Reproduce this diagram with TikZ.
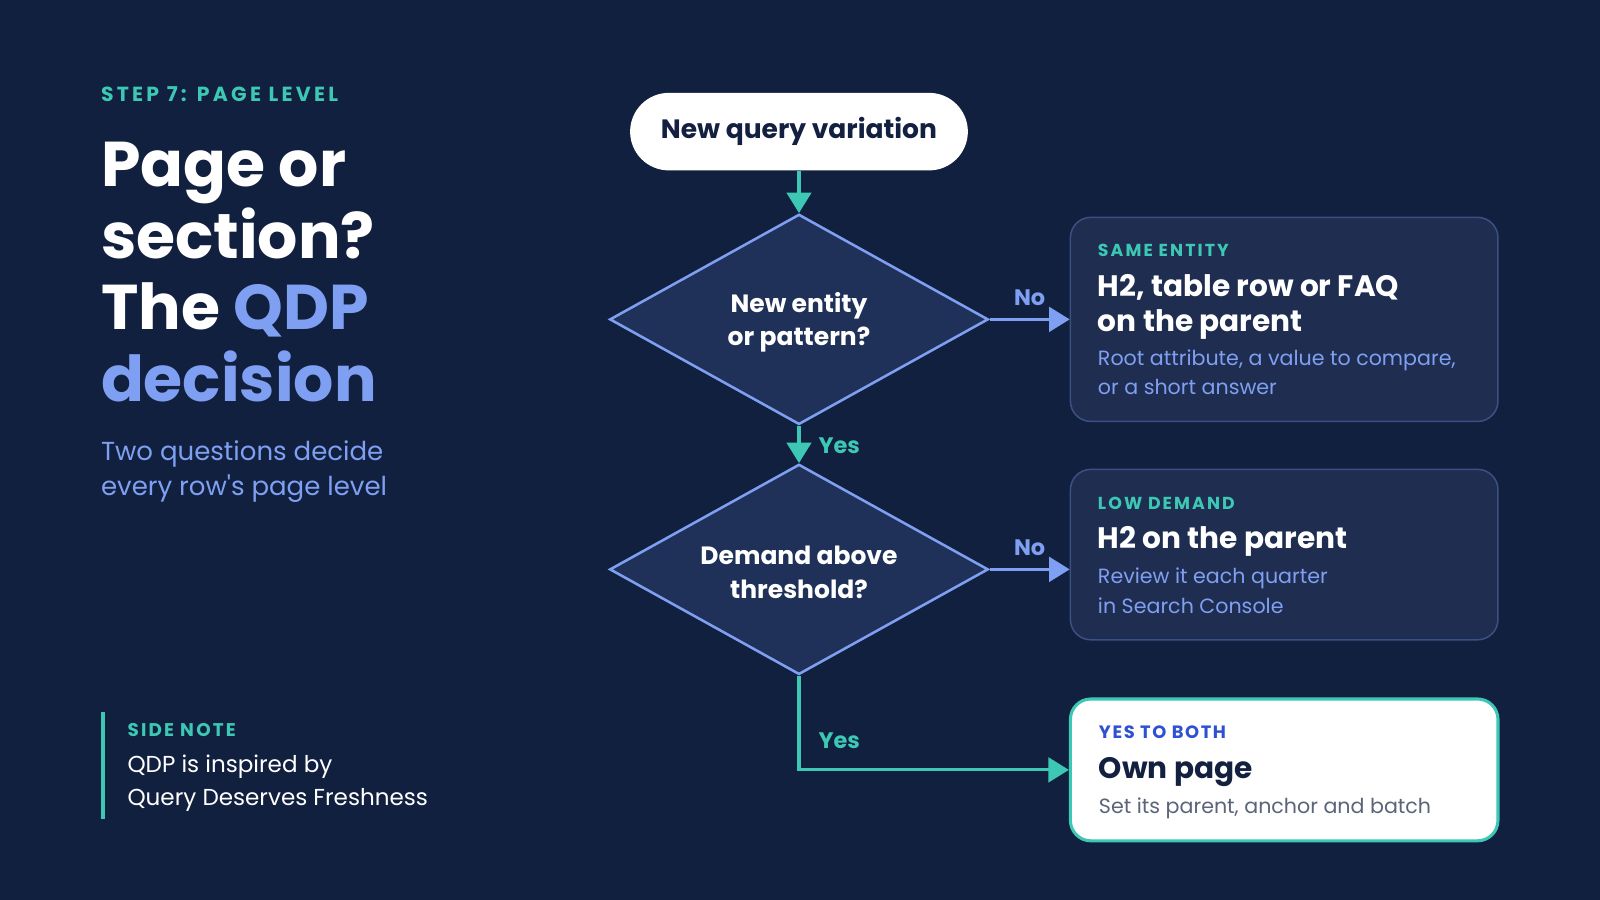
\documentclass[tikz,border=0pt]{standalone}
\usepackage{fontspec}
\setmainfont{Poppins}
\usetikzlibrary{arrows.meta,shapes.geometric,calc}
\definecolor{bg}{HTML}{12203F}
\definecolor{accent}{HTML}{3CC8B4}
\definecolor{peri}{HTML}{7FA0F2}
\definecolor{dfill}{HTML}{1F3158}
\definecolor{boxfill}{HTML}{1E2D50}
\definecolor{boxline}{HTML}{3B5082}
\definecolor{navytext}{HTML}{13203F}
\definecolor{royal}{HTML}{2F50D2}
\definecolor{graytext}{HTML}{5B6478}
\begin{document}
\begin{tikzpicture}[x=1pt,y=-1pt,
  txt/.style={anchor=base west, inner sep=0pt, outer sep=0pt},
  capslabel/.style={txt, text=accent, font=\fontsize{20}{24}\selectfont\bfseries\addfontfeatures{LetterSpace=16}},
  cardlabel/.style={txt, text=accent, font=\fontsize{17}{20}\selectfont\bfseries\addfontfeatures{LetterSpace=12}},
  title/.style={txt, text=white, font=\fontsize{62}{70}\selectfont\bfseries},
  subtitle/.style={txt, text=peri, font=\fontsize{25.5}{30}\selectfont},
  boxhead/.style={txt, text=white, font=\fontsize{29}{34}\selectfont\bfseries},
  boxbody/.style={txt, text=peri, font=\fontsize{20.2}{28}\selectfont},
  decision/.style={diamond, draw=peri, fill=dfill, line width=2.5pt, minimum width=371pt, minimum height=206pt, inner sep=0pt},
  dtext/.style={inner sep=0pt, align=center, text=white, font=\fontsize{24.5}{33}\selectfont\bfseries},
  card/.style={rectangle, rounded corners=20pt, draw=boxline, fill=boxfill, line width=1.5pt, minimum width=419pt},
  flowarr/.style={line width=3pt, -{Triangle[length=20pt,width=24pt]}},
  lbl/.style={inner sep=0pt, font=\fontsize{22}{26}\selectfont\bfseries}
]
\fill[bg] (0,0) rectangle (1568,882);
\useasboundingbox (0,0) rectangle (1568,882);

% left column
\node[capslabel] (step) at (99,99) {STEP 7: PAGE LEVEL};
\node[title] (t1) at (99,183) {Page or};
\node[title] (t2) at (99,253) {section?};
\node[title] (t3) at (99,323) {The \textcolor{peri}{QDP}};
\node[title, text=peri] (t4) at (99,393) {decision};
\node[subtitle] (s1) at (99,451) {Two questions decide};
\node[subtitle] (s2) at (99,486) {every row\textquotesingle s page level};

\fill[accent] (99,698) rectangle (103,803);
\node[cardlabel, font=\fontsize{18}{20}\selectfont\bfseries\addfontfeatures{LetterSpace=12}] (sn) at (125,722) {SIDE NOTE};
\node[txt, text=white, font=\fontsize{22.6}{28}\selectfont] (sn1) at (125,757) {QDP is inspired by};
\node[txt, text=white, font=\fontsize{22.6}{28}\selectfont] (sn2) at (125,789) {Query Deserves Freshness};

% flow
\node[fill=white, rounded corners=38pt, minimum width=331pt, minimum height=76pt, inner sep=0pt, text=navytext, font=\fontsize{26}{30}\selectfont\bfseries] (start) at (783,129) {New query variation};
\node[decision] (d1) at (783,313) {};
\node[dtext] (d1t) at (783,316) {New entity\\or pattern?};
\node[decision] (d2) at (783,558) {};
\node[dtext] (d2t) at (783,561) {Demand above\\threshold?};

\node[card, minimum height=200pt] (b1) at (1258.5,313) {};
\node[card, minimum height=167pt] (b2) at (1258.5,543.5) {};
\node[card, fill=white, draw=accent, line width=3pt, minimum height=139pt] (b3) at (1258.5,754.5) {};

\draw[flowarr, accent] (start) -- (d1);
\draw[flowarr, accent] (d1) -- (d2);
\node[lbl, text=accent, anchor=west] (y1) at (802,437) {Yes};
\draw[flowarr, peri] (d1.east) -- (d1.east -| b1.west) node[lbl, midway, above=12pt, text=peri] (n1) {No};
\draw[flowarr, peri] (d2.east) -- (d2.east -| b2.west) node[lbl, midway, above=12pt, text=peri] (n2) {No};
\draw[flowarr, accent] (d2.south) |- (b3.west);
\node[lbl, text=accent, anchor=west] (y2) at (802,726) {Yes};

% card 1
\node[cardlabel] (c1a) at (1076,251) {SAME ENTITY};
\node[boxhead] (c1b) at (1076,291) {H2, table row or FAQ};
\node[boxhead] (c1c) at (1076,325) {on the parent};
\node[boxbody] (c1d) at (1076,358) {Root attribute, a value to compare,};
\node[boxbody] (c1e) at (1076,387) {or a short answer};

% card 2
\node[cardlabel] (c2a) at (1076,499) {LOW DEMAND};
\node[boxhead] (c2b) at (1076,538) {H2 on the parent};
\node[boxbody] (c2c) at (1076,572) {Review it each quarter};
\node[boxbody] (c2d) at (1076,601) {in Search Console};

% card 3
\node[cardlabel, text=royal, font=\fontsize{17.5}{20}\selectfont\bfseries\addfontfeatures{LetterSpace=9}] (c3a) at (1077,724) {YES TO BOTH};
\node[boxhead, text=navytext] (c3b) at (1077,763) {Own page};
\node[boxbody, text=graytext] (c3c) at (1077,797) {Set its parent, anchor and batch};
\end{tikzpicture}
\end{document}
